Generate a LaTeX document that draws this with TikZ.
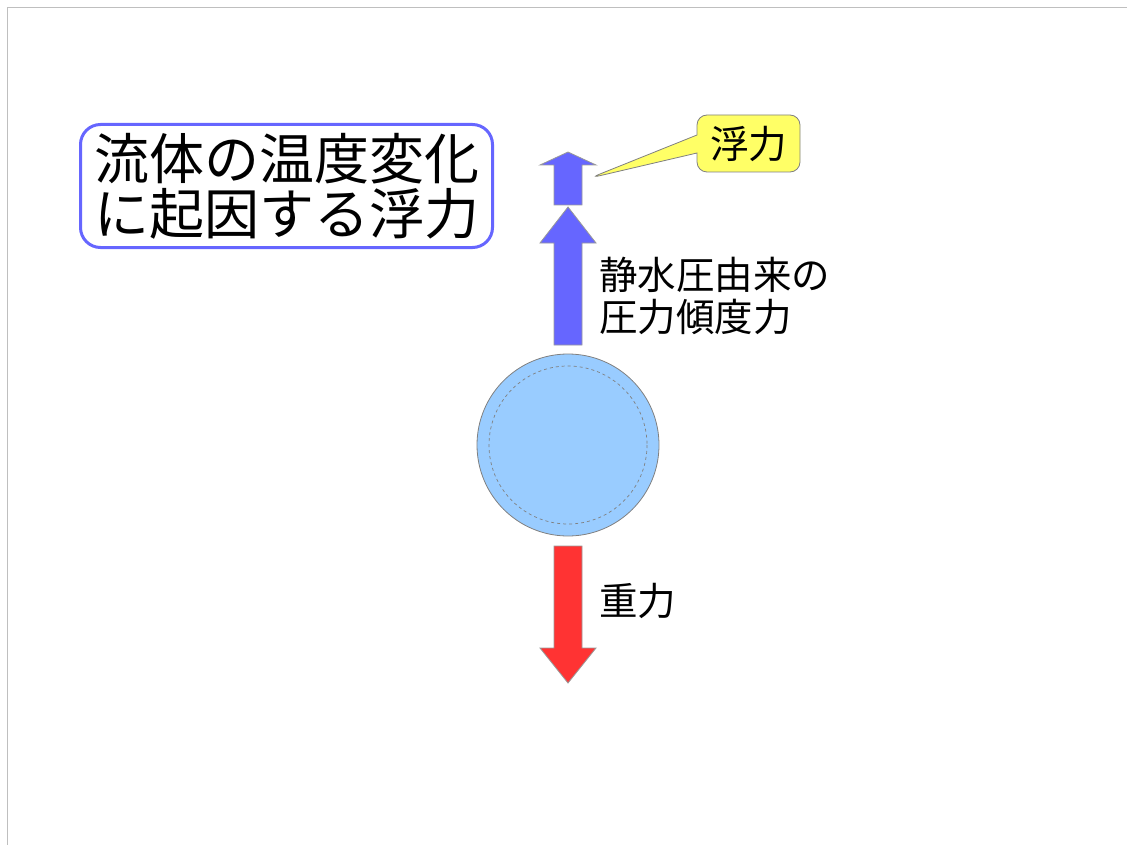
\documentclass[tikz,border=0pt]{standalone}
\usepackage{fontspec}
\setmainfont{Noto Sans CJK JP}
\usetikzlibrary{shapes.callouts}
\definecolor{arrowblue}{HTML}{6666FF}
\definecolor{arrowred}{HTML}{FF3333}
\definecolor{ballblue}{HTML}{99CCFF}
\definecolor{calloutyellow}{HTML}{FFFF66}
\tikzset{
  fatarrow/.style={draw=gray!80, line width=0.8pt},
  lbl/.style={font=\fontsize{38.5}{42}\selectfont, align=left, inner sep=0pt, anchor=west},
}
\begin{document}
\begin{tikzpicture}[x=1pt,y=-1pt]
\useasboundingbox (0,0) rectangle (1127,845);
\draw[gray!50, line width=1pt] (7.5,845) -- (7.5,7.5) -- (1127,7.5);
% title box
\node[draw=arrowblue, line width=3pt, rounded corners=20pt, minimum width=412pt, minimum height=123pt,
      align=center, inner sep=0pt, font=\fontsize{55}{55}\selectfont] (title) at (286.5,186)
      {流体の温度変化\\に起因する浮力};
% small up arrow
\draw[fatarrow, fill=arrowblue] (554,205) -- (554,165) -- (540,165) -- (568,152) -- (596,165) -- (582,165) -- (582,205) -- cycle;
\coordinate (tailtip) at (590,178);
% big up arrow
\draw[fatarrow, fill=arrowblue] (554,345) -- (554,243) -- (540,243) -- (568,207) -- (596,243) -- (582,243) -- (582,345) -- cycle;
% ball
\node[circle, draw=gray, line width=0.8pt, fill=ballblue, minimum size=182pt, inner sep=0pt] (ball) at (568,445) {};
\draw[gray, dashed, line width=0.7pt] (ball.center) circle (79);
% red arrow
\draw[fatarrow, fill=arrowred] (554,546) -- (554,648) -- (540,648) -- (568,683) -- (596,648) -- (582,648) -- (582,546) -- cycle;
% labels
\node[lbl] (hp) at (599,296) {静水圧由来の\\圧力傾度力};
\node[lbl] (grav) at (599,601) {重力};
% callout
\node[rectangle callout, draw=gray, fill=calloutyellow, rounded corners=10pt, line width=0.8pt,
      minimum width=103pt, minimum height=57pt, inner sep=0pt, font=\fontsize{38.5}{42}\selectfont,
      callout absolute pointer={(tailtip)}, callout pointer width=18pt] (buoy) at (748.5,143.5) {浮力};
\end{tikzpicture}
\end{document}
